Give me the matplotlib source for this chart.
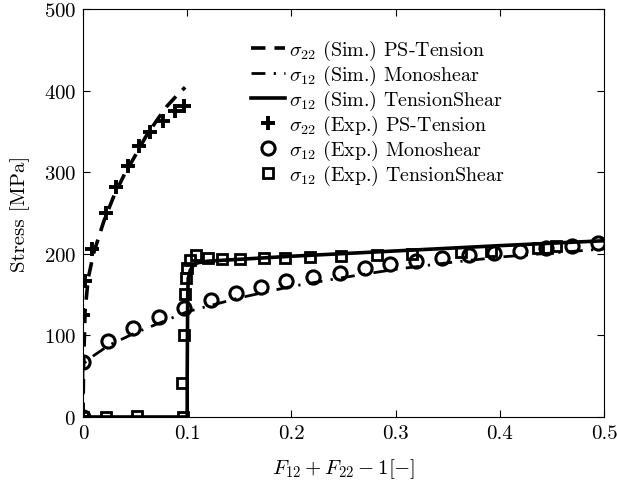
import matplotlib
matplotlib.use("Agg")
import matplotlib.pyplot as plt

plt.rcParams["font.family"] = "serif"
plt.rcParams["font.serif"] = ["cmr10"]
plt.rcParams["mathtext.fontset"] = "cm"
plt.rcParams["axes.formatter.use_mathtext"] = True

# simulation curves
ps_sim_x = [0, 0.0005, 0.002, 0.005, 0.01, 0.02, 0.03, 0.04, 0.05, 0.06, 0.07, 0.08, 0.09, 0.098]
ps_sim_y = [0, 60, 130, 170, 200, 240, 272, 298, 320, 343, 362, 380, 394, 404]

mono_sim_x = [0, 0, 0.01, 0.025, 0.05, 0.1, 0.15, 0.2, 0.25, 0.3, 0.35, 0.4, 0.45, 0.5]
mono_sim_y = [0, 65, 75, 88, 103, 129, 146, 160, 171, 181, 189, 196, 201, 206]

ts_sim_x = [0, 0.1, 0.1, 0.1005, 0.101, 0.103, 0.106, 0.11, 0.12, 0.2, 0.3, 0.4, 0.5]
ts_sim_y = [0, 0, 50, 150, 170, 180, 186, 189, 191, 197, 203.5, 210, 216]

# experiments
ps_exp_x = [0, 0, 0.002, 0.009, 0.022, 0.032, 0.043, 0.054, 0.064, 0.077, 0.088, 0.097]
ps_exp_y = [0, 125, 167, 206, 250, 282, 308, 332, 349, 363, 375, 381]

mono_exp_x = [0, 0, 0.024, 0.048, 0.073, 0.097, 0.123, 0.147, 0.171, 0.195, 0.221, 0.247,
              0.271, 0.295, 0.32, 0.345, 0.37, 0.394, 0.419, 0.444, 0.469, 0.494]
mono_exp_y = [0, 68, 93, 109, 122, 133, 143, 152, 159, 167, 172, 177,
              182, 187, 191, 195, 198, 201, 204, 207, 210, 213]

ts_exp_x = [0, 0.022, 0.052, 0.096, 0.095, 0.097, 0.098, 0.099, 0.1, 0.103, 0.108, 0.12,
            0.133, 0.151, 0.174, 0.194, 0.218, 0.248, 0.282, 0.316, 0.363, 0.392, 0.437,
            0.445, 0.454]
ts_exp_y = [0, 0, 1, 0, 42, 101, 151, 170, 182, 193, 198, 195,
            194, 194, 195, 195, 196, 197, 198.5, 200, 202.5, 204, 207,
            207, 210]

fig = plt.figure(figsize=(6.17, 4.81), dpi=100)
ax = fig.add_axes([83 / 617, 1 - 418 / 481, 521 / 617, 408 / 481])

ax.plot(ps_sim_x, ps_sim_y, color="k", lw=2.6, ls=(0, (4, 2.5)),
        label=r"$\sigma_{22}$ (Sim.) PS-Tension")
ax.plot(mono_sim_x, mono_sim_y, color="k", lw=2.0, ls=(0, (5, 3, 0.8, 3)),
        label=r"$\sigma_{12}$ (Sim.) Monoshear")
ax.plot(ts_sim_x, ts_sim_y, color="k", lw=2.6, ls="-",
        label=r"$\sigma_{12}$ (Sim.) TensionShear")
ax.plot(ps_exp_x, ps_exp_y, ls="none", marker="+", ms=10, mew=2.8, color="k",
        label=r"$\sigma_{22}$ (Exp.) PS-Tension")
ax.plot(mono_exp_x, mono_exp_y, ls="none", marker="o", ms=9.5, mew=2.2, mfc="none", color="k",
        label=r"$\sigma_{12}$ (Exp.) Monoshear")
ax.plot(ts_exp_x, ts_exp_y, ls="none", marker="s", ms=6.5, mew=2.0, mfc="none", color="k",
        label=r"$\sigma_{12}$ (Exp.) TensionShear")

ax.set_xlim(0, 0.5)
ax.set_ylim(0, 500)
ax.set_xticks([0, 0.1, 0.2, 0.3, 0.4, 0.5])
ax.set_xticklabels(["0", "0.1", "0.2", "0.3", "0.4", "0.5"])
ax.set_yticks([0, 100, 200, 300, 400, 500])
ax.tick_params(direction="in", top=True, right=True, length=5, labelsize=15, pad=5)
ax.set_xlabel(r"$F_{12}+F_{22}-1[-]$", fontsize=15, labelpad=10)
ax.set_ylabel("Stress [MPa]", fontsize=15, labelpad=10)

ax.legend(loc="upper left", bbox_to_anchor=(0.322, 0.93), frameon=False, fontsize=14.4,
          handlelength=1.7, handletextpad=0.2, labelspacing=0.05, borderpad=0,
          borderaxespad=0)

fig.savefig("out.png", dpi=100)
